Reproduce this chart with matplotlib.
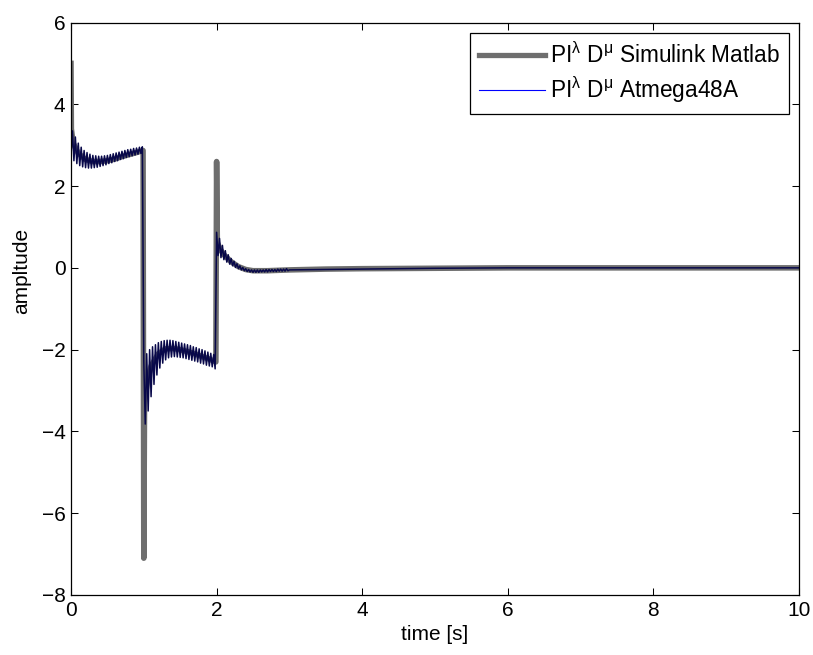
import numpy as np
import matplotlib
matplotlib.use('Agg')
import matplotlib.pyplot as plt
from matplotlib.lines import Line2D

plt.rcParams['font.family'] = ['Liberation Sans', 'DejaVu Sans']
plt.rcParams['mathtext.fontset'] = 'custom'
plt.rcParams['mathtext.rm'] = 'Liberation Sans'
plt.rcParams['mathtext.it'] = 'Liberation Sans'

# Simulink reference response (smooth)
t_sim = [0.0, 0.005, 0.03, 0.1, 0.2, 0.3, 0.4, 0.5, 0.6, 0.7, 0.8, 0.9, 0.99,
         1.0, 1.01, 1.05, 1.1, 1.2, 1.3, 1.4, 1.5, 1.6, 1.7, 1.8, 1.9, 1.99,
         2.0, 2.01, 2.05, 2.1, 2.2, 2.3, 2.4, 2.5, 2.7, 3.0, 3.5, 4.0, 5.0, 6.0, 10.0]
y_sim = [5.0, 3.4, 3.05, 2.8, 2.65, 2.6, 2.6, 2.62, 2.66, 2.72, 2.77, 2.82, 2.87,
         -7.1, -3.3, -2.75, -2.4, -2.1, -1.98, -1.97, -2.0, -2.05, -2.1, -2.17, -2.23, -2.3,
         2.6, 0.62, 0.45, 0.32, 0.15, 0.03, -0.04, -0.07, -0.07, -0.05, -0.03, -0.02, -0.01, 0.0, 0.0]

# Atmega48A response, controller sample every 0.02 s (peak / trough pairs)
Ts = 0.02
atm_seg1 = [2.75, 3.35, 2.62, 3.2, 2.55, 3.05, 2.5, 2.95, 2.47, 2.87,
            2.45, 2.82, 2.44, 2.78, 2.44, 2.75, 2.45, 2.74, 2.46, 2.73,
            2.48, 2.73, 2.5, 2.74, 2.52, 2.75, 2.55, 2.77, 2.57, 2.79,
            2.6, 2.81, 2.62, 2.83, 2.65, 2.85, 2.67, 2.87, 2.7, 2.89,
            2.72, 2.9, 2.74, 2.92, 2.76, 2.93, 2.78, 2.95, 2.8, 2.96]
atm_seg2 = [-2.3, -3.82, -2.1, -3.5, -2.0, -3.15, -1.93, -2.85, -1.88, -2.62,
            -1.83, -2.45, -1.8, -2.33, -1.78, -2.25, -1.77, -2.2, -1.77, -2.18,
            -1.78, -2.17, -1.8, -2.18, -1.82, -2.19, -1.84, -2.2, -1.86, -2.22,
            -1.88, -2.24, -1.9, -2.26, -1.93, -2.28, -1.95, -2.3, -1.98, -2.33,
            -2.0, -2.35, -2.03, -2.38, -2.06, -2.4, -2.09, -2.42, -2.12, -2.47]
atm_seg3 = [0.87, 0.3, 0.72, 0.25, 0.55, 0.2, 0.42, 0.14, 0.32, 0.09,
            0.23, 0.05, 0.16, 0.01, 0.1, -0.02, 0.05, -0.05, 0.01, -0.07,
            -0.02, -0.09, -0.04, -0.1, -0.05, -0.11, -0.05, -0.11, -0.05, -0.11,
            -0.05, -0.1, -0.05, -0.1, -0.04, -0.1, -0.04, -0.09, -0.04, -0.09,
            -0.04, -0.09, -0.03, -0.08, -0.03, -0.08, -0.03, -0.08, -0.02, -0.07]
t_tail = [3.0, 3.5, 4.0, 4.5, 5.0, 6.0, 8.0, 10.0]
y_tail = [-0.05, -0.04, -0.03, -0.02, -0.01, 0.0, 0.0, 0.0]

t_atm = np.concatenate([np.arange(len(atm_seg1)) * Ts,
                        1.0 + np.arange(len(atm_seg2)) * Ts,
                        2.0 + np.arange(len(atm_seg3)) * Ts,
                        t_tail])
y_atm = np.concatenate([atm_seg1, atm_seg2, atm_seg3, y_tail])

lab_sim = r'PI$^{\mathrm{\lambda}}$ D$^{\mathrm{\mu}}$ Simulink Matlab'
lab_atm = r'PI$^{\mathrm{\lambda}}$ D$^{\mathrm{\mu}}$ Atmega48A'

fig = plt.figure(figsize=(8.13, 6.55), dpi=100)
ax = fig.add_axes([71/813, 1-595/655, 728/813, 572.5/655])

ax.plot(t_sim, y_sim, color='#6e6e6e', lw=4.0, solid_joinstyle='round')
# dense zigzag renders very dark in the reference
ax.plot(t_atm, y_atm, color='#08084a', lw=1.1)

ax.set_xlim(0, 10)
ax.set_ylim(-8, 6)
ax.set_xticks([0, 2, 4, 6, 8, 10])
ax.set_yticks([-8, -6, -4, -2, 0, 2, 4, 6])
ax.tick_params(direction='in', length=5, width=0.75, top=True, right=True,
               labelsize=15, pad=4)
for s in ax.spines.values():
    s.set_linewidth(0.9)

ax.set_xlabel('time [s]', fontsize=15)
ax.set_ylabel('ampltude', fontsize=15)
ax.yaxis.set_label_coords(-0.055, 0.566)

handles = [Line2D([], [], color='#6e6e6e', lw=3.8),
           Line2D([], [], color='b', lw=0.8)]
leg = ax.legend(handles, [lab_sim, lab_atm], loc='upper right',
                bbox_to_anchor=(0.986, 0.982), fontsize=16.3,
                frameon=True, fancybox=False, edgecolor='k', framealpha=1,
                borderaxespad=0, handlelength=2.9, handletextpad=0.22,
                labelspacing=0.3, borderpad=0.4)
leg.get_frame().set_linewidth(0.9)

plt.savefig('out.png', dpi=100)
